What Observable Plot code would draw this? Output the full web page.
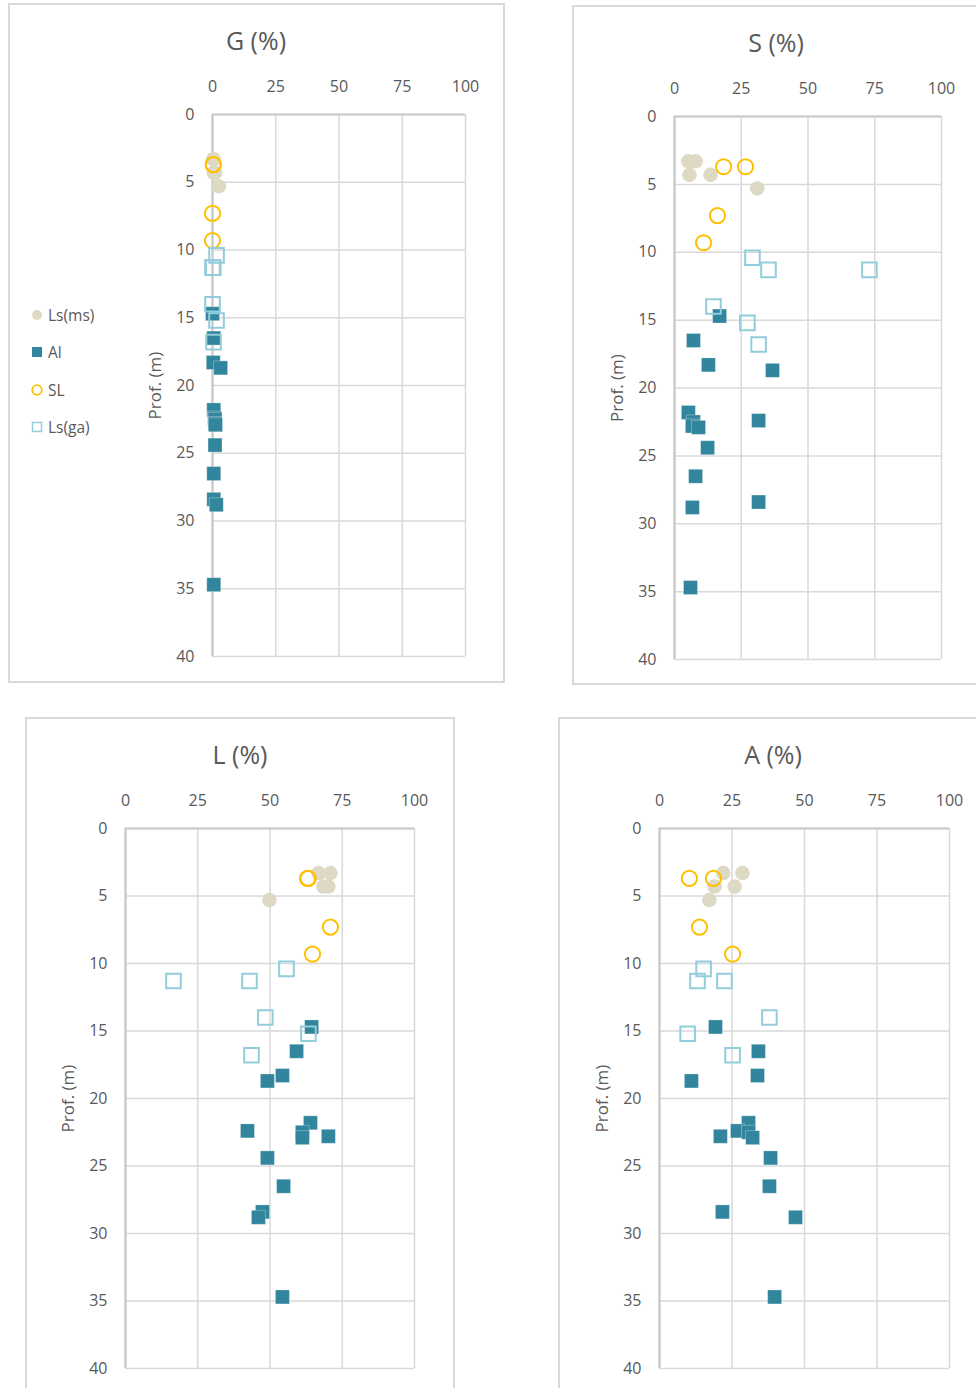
<!DOCTYPE html>
<html><head><meta charset="utf-8">
<script src="https://cdn.jsdelivr.net/npm/d3@7"></script>
<script src="https://cdn.jsdelivr.net/npm/@observablehq/plot@0.6"></script>
<style>
body{margin:0;background:#fff;font-family:"Open Sans",sans-serif;}
#wrap{position:relative;width:976px;height:1388px;overflow:hidden;background:#fff;}
.frame{position:absolute;border:2px solid #d9d9d9;box-sizing:border-box;}
.title{position:absolute;font-size:25px;line-height:30px;color:#595959;transform:translateX(-50%);white-space:nowrap;}
.plot{position:absolute;}
.legend{position:absolute;left:31px;top:296px;font-size:15.5px;color:#595959;}
.legend div{height:37.5px;line-height:24px;display:flex;align-items:center;}
.legend svg{margin-right:5px;}
</style>
</head><body>
<div id="wrap"></div>
<script>
// ---------- data ----------
const seriesNames = ["Ls(ms)", "Al", "SL", "Ls(ga)"];
const xTicks = [0, 25, 50, 75, 100];
const yTicks = [0, 5, 10, 15, 20, 25, 30, 35, 40];

// Ls(ms)
const lsmsDepth = [3.3, 3.3, 4.3, 4.3, 5.3];
const lsmsG = [0.5, 0.3, 0.5, 1.0, 2.5];
const lsmsS = [5.2, 7.9, 5.6, 13.5, 31.0];
const lsmsL = [66.8, 70.9, 70.2, 68.5, 49.8];
const lsmsA = [28.6, 22.0, 25.9, 19.0, 17.2];

// Al
const alDepth = [14.7, 16.5, 18.3, 18.7, 21.8, 22.4, 22.5, 22.8, 22.9, 24.4, 26.5, 28.4, 28.8, 34.7];
const alG = [0.0, 0.5, 0.3, 3.2, 0.5, 0.8, 1.0, 1.0, 1.2, 1.0, 0.5, 0.5, 1.5, 0.5];
const alS = [16.9, 7.1, 12.7, 36.7, 5.2, 31.5, 7.1, 6.7, 9.0, 12.4, 7.9, 31.5, 6.7, 6.0];
const alL = [64.4, 59.2, 54.3, 49.1, 64.0, 42.2, 61.2, 70.2, 61.2, 49.1, 54.7, 47.4, 46.0, 54.3];
const alA = [19.3, 34.1, 33.8, 11.0, 30.7, 26.9, 30.7, 21.0, 32.1, 38.3, 37.9, 21.7, 46.9, 39.7];

// SL
const slDepth = [3.7, 3.7, 7.3, 9.3];
const slG = [0.3, 0.3, 0.0, 0.0];
const slS = [18.4, 26.6, 16.1, 10.9];
const slL = [63.0, 63.2, 70.9, 64.7];
const slA = [18.6, 10.3, 13.8, 25.2];

// Ls(ga)
const lsgaDepth = [10.4, 11.3, 11.3, 14.0, 15.2, 16.8];
const lsgaG = [1.6, 0.0, 0.3, 0.0, 1.6, 0.4];
const lsgaS = [29.2, 35.2, 73.0, 14.6, 27.3, 31.5];
const lsgaL = [55.7, 42.9, 16.6, 48.4, 63.3, 43.6];
const lsgaA = [15.2, 22.4, 13.1, 37.9, 9.7, 25.2];

// ---------- build tables ----------
function rows(depth, G, S, L, A) {
  return depth.map((d, i) => ({depth: d, G: G[i], S: S[i], L: L[i], A: A[i]}));
}
const lsms = rows(lsmsDepth, lsmsG, lsmsS, lsmsL, lsmsA);
const al = rows(alDepth, alG, alS, alL, alA);
const sl = rows(slDepth, slG, slS, slL, slA);
const lsga = rows(lsgaDepth, lsgaG, lsgaS, lsgaL, lsgaA);

const colBeige = "#ddd9c4", colTeal = "#31859c", colYellow = "#ffc000", colAqua = "#92cddc";
const SQ = Math.sqrt(Math.PI);

const panels = [
  {key: "G", title: "G (%)", left: 8, top: 3, width: 497, height: 679, mL: 204, mR: 40, mT: 111, mB: 26, tx: 256, ty: 41, fw: 497, fh: 680},
  {key: "S", title: "S (%)", left: 572, top: 5, width: 404, height: 681, mL: 102, mR: 35, mT: 111, mB: 27, tx: 776, ty: 43, fw: 420, fh: 680},
  {key: "L", title: "L (%)", left: 25, top: 717, width: 430, height: 671, mL: 100, mR: 41, mT: 111, mB: 20, tx: 240, ty: 755, fw: 430, fh: 690},
  {key: "A", title: "A (%)", left: 558, top: 717, width: 418, height: 671, mL: 101, mR: 27, mT: 111, mB: 20, tx: 773, ty: 755, fw: 430, fh: 690}
];

const wrap = document.getElementById("wrap");

for (const p of panels) {
  const fr = document.createElement("div");
  fr.className = "frame";
  Object.assign(fr.style, {left: p.left + "px", top: p.top + "px", width: p.fw + "px", height: p.fh + "px"});
  wrap.appendChild(fr);

  const k = p.key;
  const chart = Plot.plot({
    width: p.width,
    height: p.height,
    marginLeft: p.mL, marginRight: p.mR, marginTop: p.mT, marginBottom: p.mB,
    style: {fontFamily: "Open Sans, sans-serif", fontSize: "16px", color: "#595959", background: "transparent", overflow: "visible"},
    x: {domain: [0, 100], axis: "top", ticks: xTicks, tickSize: 0, tickPadding: 23, label: null},
    y: {domain: [0, 40], reverse: true, ticks: yTicks, tickSize: 0, tickPadding: 18, label: null},
    marks: [
      Plot.ruleX(xTicks, {stroke: "#d9d9d9", strokeWidth: 1.5}),
      Plot.ruleY(yTicks, {stroke: "#d9d9d9", strokeWidth: 1.5}),
      Plot.ruleX([0], {stroke: "#c8c8c8", strokeWidth: 2.2}),
      Plot.ruleY([0], {stroke: "#c8c8c8", strokeWidth: 2.2}),
      Plot.dot(lsms, {x: k, y: "depth", r: 7.3, fill: colBeige, stroke: "none"}),
      Plot.dot(al, {x: k, y: "depth", symbol: "square", r: 14 / SQ, fill: colTeal, stroke: "#ffffff", strokeWidth: 0.6, strokeOpacity: 0.5}),
      Plot.dot(sl, {x: k, y: "depth", r: 7.6, fill: "none", stroke: colYellow, strokeWidth: 2}),
      Plot.dot(lsga, {x: k, y: "depth", symbol: "square", r: 14.6 / SQ, fill: "none", stroke: colAqua, strokeWidth: 2}),
      Plot.text(["Prof. (m)"], {text: d => d, frameAnchor: "left", dx: -57, rotate: -90, textAnchor: "middle", lineAnchor: "middle", fontSize: 17, fill: "#595959"})
    ]
  });
  chart.classList.add("plot");
  chart.style.left = p.left + "px";
  chart.style.top = p.top + "px";
  wrap.appendChild(chart);

  const t = document.createElement("div");
  t.className = "title";
  t.textContent = p.title;
  t.style.left = p.tx + "px";
  t.style.top = (p.ty - 16) + "px";
  wrap.appendChild(t);
}

// legend (first panel)
const leg = document.createElement("div");
leg.className = "legend";
const swatches = [
  `<svg width="12" height="12"><circle cx="6" cy="6" r="5" fill="${colBeige}"/></svg>`,
  `<svg width="12" height="12"><rect x="1" y="1" width="10" height="10" fill="${colTeal}"/></svg>`,
  `<svg width="12" height="12"><circle cx="6" cy="6" r="4.8" fill="none" stroke="${colYellow}" stroke-width="1.8"/></svg>`,
  `<svg width="12" height="12"><rect x="1.5" y="1.5" width="9" height="9" fill="none" stroke="${colAqua}" stroke-width="1.5"/></svg>`
];
seriesNames.forEach((n, i) => {
  const row = document.createElement("div");
  row.innerHTML = swatches[i] + `<span>${n}</span>`;
  leg.appendChild(row);
});
wrap.appendChild(leg);
</script>
</body></html>
